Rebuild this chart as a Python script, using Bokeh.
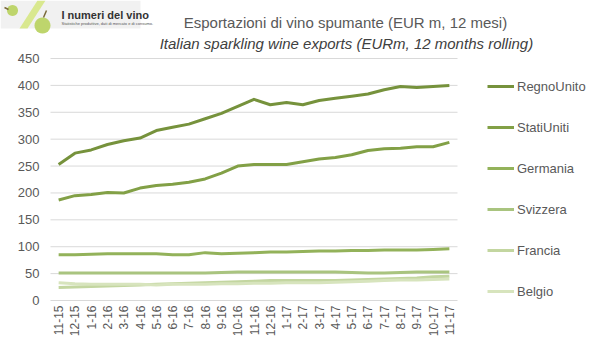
import math
from bokeh.plotting import figure
from bokeh.models import (Range1d, Legend, LegendItem, ColumnDataSource)
from bokeh.core.properties import value
from bokeh.embed import file_html
from bokeh.resources import INLINE

months = ["11-15", "12-15", "1-16", "2-16", "3-16", "4-16", "5-16", "6-16", "7-16",
          "8-16", "9-16", "10-16", "11-16", "12-16", "1-17", "2-17", "3-17", "4-17",
          "5-17", "6-17", "7-17", "8-17", "9-17", "10-17", "11-17"]

regno_unito = [253, 274, 280, 290, 297, 302, 316, 322, 328, 338, 348, 361, 374,
               364, 368, 364, 372, 376, 380, 384, 392, 398, 396, 398, 400]
stati_uniti = [187, 195, 197, 201, 200, 209, 214, 216, 220, 226, 237, 250, 253,
               253, 253, 258, 263, 266, 271, 279, 282, 283, 286, 286, 294]
germania = [85, 85, 86, 87, 87, 87, 87, 85, 85, 89, 87, 88, 89, 90, 90, 91, 92,
            92, 93, 93, 94, 94, 94, 95, 96]
svizzera = [51, 51, 51, 51, 51, 51, 51, 51, 51, 51, 52, 53, 53, 53, 53, 53, 53,
            53, 52, 51, 51, 52, 53, 53, 53]
francia = [24, 25, 26, 27, 28, 29, 30, 31, 32, 33, 34, 35, 36, 37, 37, 37, 37,
           37, 38, 39, 40, 41, 42, 44, 45]
belgio = [33, 31, 30, 30, 30, 30, 29, 30, 30, 30, 31, 31, 32, 32, 33, 33, 33,
          34, 35, 36, 37, 38, 38, 39, 40]

series_names = ["RegnoUnito", "StatiUniti", "Germania", "Svizzera", "Francia", "Belgio"]
series_values = [regno_unito, stati_uniti, germania, svizzera, francia, belgio]
colors = ["#76923c", "#82a046", "#93b25a", "#a9c47f", "#c3d6a0", "#d7e4bd"]

y_ticks = [0, 50, 100, 150, 200, 250, 300, 350, 400, 450]

title_it = "Esportazioni di vino spumante  (EUR m, 12 mesi)"
title_en = "Italian sparkling wine exports (EURm,  12 months rolling)"
logo_title = "I numeri del vino"
logo_sub = "Statistiche produttive, dati di mercato e di consumo."

# layout constants (pixels): the plotting area of the reference
W, H = 599, 352
FL, FR, FT, FB = 50, 457, 58, 300
n = len(months)
xs_per_px = n / (FR - FL)
ys_per_px = 450 / (FB - FT)
def dx(px):
    return -0.5 + (px - FL) * xs_per_px
def dy(py):
    return (FB - py) * ys_per_px

idx = list(range(n))
p = figure(width=W, height=H, output_backend="svg", toolbar_location=None,
           x_range=Range1d(dx(0), dx(W)), y_range=Range1d(dy(H), dy(0)),
           min_border=0)
p.axis.visible = False
p.grid.visible = False
p.outline_line_color = None
p.background_fill_color = "white"
p.border_fill_color = "white"

FONT = value("Liberation Sans")

# gridlines
p.segment(x0=[-0.5] * len(y_ticks), x1=[n - 0.5] * len(y_ticks), y0=y_ticks, y1=y_ticks,
          line_color="#d9d9d9", line_width=1)
# y tick labels
p.text(x=[dx(39)] * len(y_ticks), y=y_ticks, text=[str(t) for t in y_ticks],
       text_align="right", text_baseline="middle", text_font=FONT,
       text_font_size="13px", text_color="#595959")
# x tick labels (vertical)
p.text(x=idx, y=[dy(305)] * n, text=months, angle=math.pi / 2,
       text_align="right", text_baseline="middle", text_font=FONT,
       text_font_size="12px", text_color="#595959")

items = []
for name, vals, col in zip(series_names, series_values, colors):
    src = ColumnDataSource(dict(x=idx, y=vals))
    r = p.line("x", "y", source=src, line_color=col, line_width=3, line_join="round")
    items.append(LegendItem(label=name, renderers=[r]))

legend = Legend(items=items, location=(487, H - 299), orientation="vertical",
                glyph_width=27, glyph_height=16, label_height=16, spacing=25,
                padding=0, margin=0, label_standoff=3,
                label_text_font="Liberation Sans", label_text_font_size="13px",
                label_text_color="#595959", border_line_color=None,
                background_fill_alpha=0)
p.add_layout(legend, "center")

# titles
p.text(x=[dx(347)], y=[dy(22)], text=[title_it], text_align="center",
       text_baseline="middle", text_font=FONT, text_font_size="15px", text_color="#595959")
p.text(x=[dx(348)], y=[dy(43)], text=[title_en], text_align="center",
       text_baseline="middle", text_font=FONT, text_font_size="15px",
       text_font_style="italic", text_color="#404040")

# logo (decoration)
p.quad(left=[dx(0)], right=[dx(140)], top=[dy(0)], bottom=[dy(28)],
       fill_color="#f1f1f1", line_color=None)
p.patch(x=[dx(37), dx(45), dx(27), dx(19)], y=[dy(0), dy(0), dy(28), dy(28)],
        fill_color="#d9e88f", line_color=None)
def circle_xy(cx, cy, r):
    k = 24
    return ([dx(cx + r * math.cos(2 * math.pi * i / k)) for i in range(k)],
            [dy(cy + r * math.sin(2 * math.pi * i / k)) for i in range(k)])
for cx, cy, r in [(12, 10, 5.5), (42, 25, 8)]:
    gx, gy = circle_xy(cx, cy, r)
    p.patch(x=gx, y=gy, fill_color="#bed56c", line_color=None)
p.segment(x0=[dx(4), dx(43)], y0=[dy(7), dy(17)], x1=[dx(8), dx(46)], y1=[dy(9), dy(10)],
          line_color="#7a6a3a", line_width=1.5)
p.text(x=[dx(61)], y=[dy(14)], text=[logo_title], text_align="left",
       text_baseline="middle", text_font=FONT, text_font_size="11px",
       text_font_style="bold", text_color="#333333")
p.text(x=[dx(61)], y=[dy(23)], text=[logo_sub], text_align="left",
       text_baseline="middle", text_font=FONT, text_font_size="4px", text_color="#555555")

open("out.html", "w").write(file_html(p, INLINE))
